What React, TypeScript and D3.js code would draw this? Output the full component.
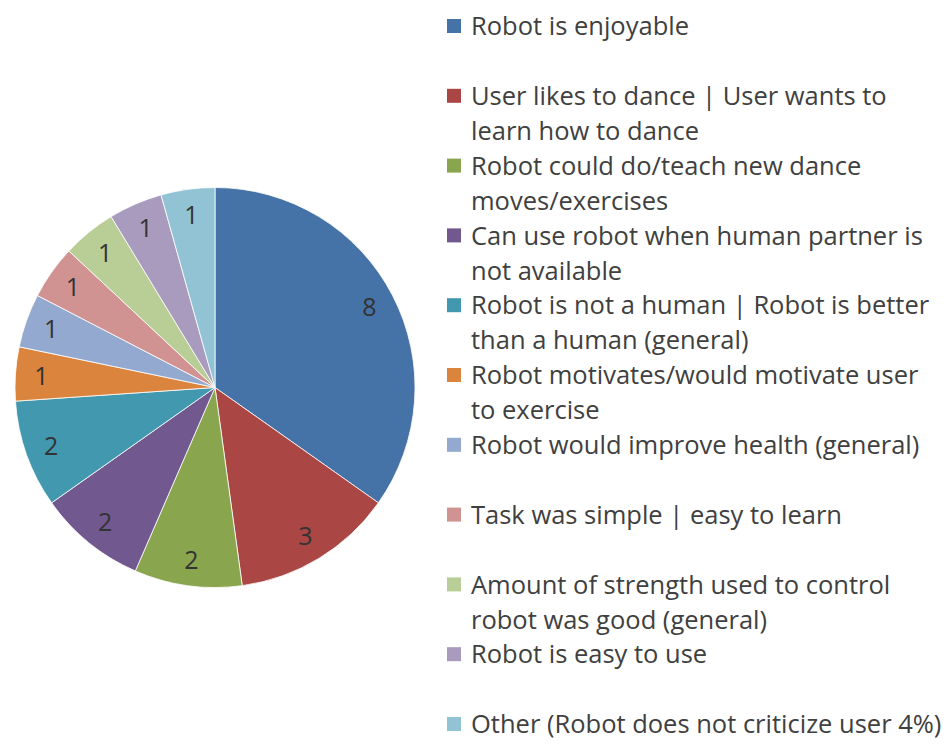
import * as d3 from "d3";
import { useEffect, useRef } from "react";

// slices, in clockwise order from 12 o'clock
const categories = [
  "Robot is enjoyable",
  "User likes to dance | User wants to learn how to dance",
  "Robot could do/teach new dance moves/exercises",
  "Can use robot when human partner is not available",
  "Robot is not a human | Robot is better than a human (general)",
  "Robot motivates/would motivate user to exercise",
  "Robot would improve health (general)",
  "Task was simple | easy to learn",
  "Amount of strength used to control robot was good (general)",
  "Robot is easy to use",
  "Other (Robot does not criticize user 4%)",
];
const counts = [8, 3, 2, 2, 2, 1, 1, 1, 1, 1, 1];
// legend text as it wraps in the picture
const legendLines = [
  ["Robot is enjoyable"],
  ["User likes to dance | User wants to", "learn how to dance"],
  ["Robot could do/teach new dance", "moves/exercises"],
  ["Can use robot when human partner is", "not available"],
  ["Robot is not a human | Robot is better", "than a human (general)"],
  ["Robot motivates/would motivate user", "to exercise"],
  ["Robot would improve health (general)"],
  ["Task was simple | easy to learn"],
  ["Amount of strength used to control", "robot was good (general)"],
  ["Robot is easy to use"],
  ["Other (Robot does not criticize user 4%)"],
];
const colors = [
  "#4572a7", "#aa4643", "#89a54e", "#71588f", "#4198af", "#db843d",
  "#93a9cf", "#d19392", "#b9cd96", "#a99bbd", "#92c3d4",
];

const W = 946;
const H = 751;
const font = "'Open Sans', Lato, sans-serif";

export default function App() {
  const ref = useRef<SVGSVGElement>(null);

  useEffect(() => {
    const svg = d3.select(ref.current);
    svg.selectAll("*").remove();

    const cx = 215, cy = 387.5, r = 200;
    const data = categories.map((c, i) => ({ name: c, value: counts[i] }));

    const pie = d3.pie<any>().value((d) => d.value).sort(null);
    const arc = d3.arc<any>().innerRadius(0).outerRadius(r);
    const labelArc = d3.arc<any>().innerRadius(r * 0.87).outerRadius(r * 0.87);

    const g = svg.append("g").attr("transform", `translate(${cx},${cy})`);
    const arcs = pie(data);

    g.selectAll("path")
      .data(arcs)
      .enter()
      .append("path")
      .attr("d", arc)
      .attr("fill", (d, i) => colors[i])
      .attr("stroke", "#fff")
      .attr("stroke-width", 0.8);

    g.selectAll("text")
      .data(arcs)
      .enter()
      .append("text")
      .attr("transform", (d) => `translate(${labelArc.centroid(d)})`)
      .attr("text-anchor", "middle")
      .attr("dy", "0.36em")
      .style("font-family", font)
      .style("font-size", "25px")
      .attr("fill", "#333")
      .text((d) => d.data.value);

    // legend
    const legend = svg.append("g");
    const y0 = 26, step = 69.8, lineH = 35;
    legendLines.forEach((lines, i) => {
      const y = y0 + i * step;
      legend
        .append("rect")
        .attr("x", 447)
        .attr("y", y - 7)
        .attr("width", 14)
        .attr("height", 14)
        .attr("fill", colors[i]);
      lines.forEach((t, j) => {
        legend
          .append("text")
          .attr("x", 471)
          .attr("y", y + j * lineH)
          .attr("dy", "0.36em")
          .style("font-family", font)
          .style("font-size", "25.5px")
          .attr("fill", "#404040")
          .text(t);
      });
    });
  }, []);

  return (
    <svg
      ref={ref}
      width={W}
      height={H}
      style={{ position: "absolute", left: 0, top: 0, background: "#fff" }}
    />
  );
}
